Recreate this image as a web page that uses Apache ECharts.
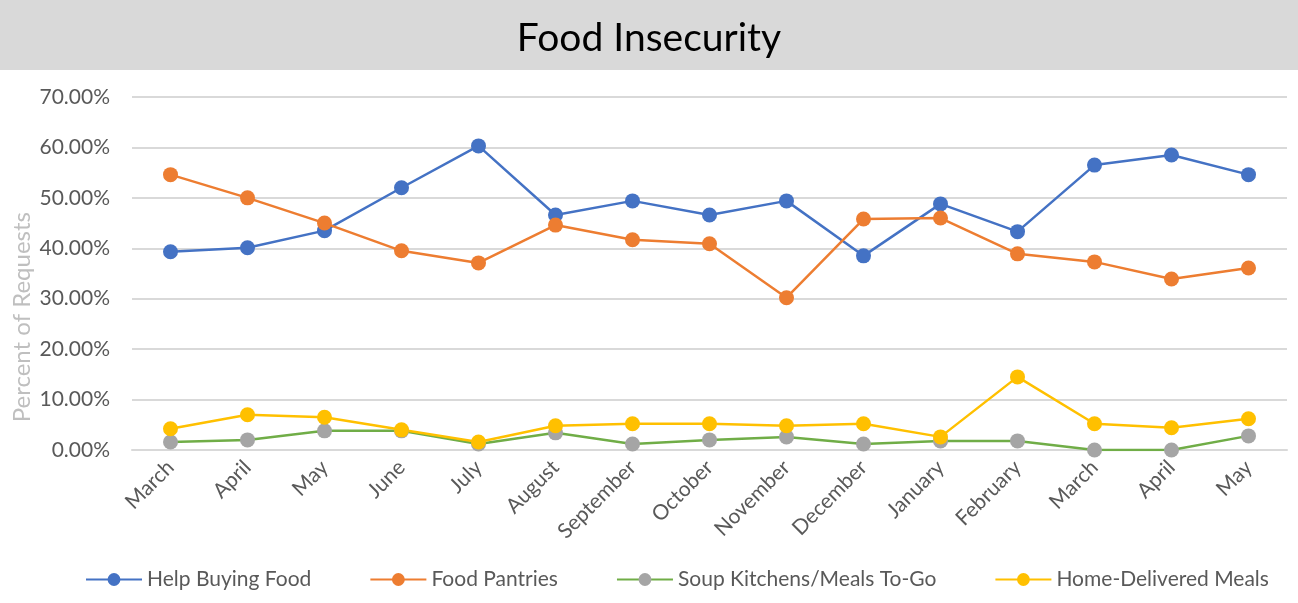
<!DOCTYPE html>
<html>
<head>
<meta charset="utf-8">
<script src="https://cdn.jsdelivr.net/npm/echarts@6/dist/echarts.min.js"></script>
<style>
  html, body { margin: 0; padding: 0; background: #fff; }
  #chart { width: 1298px; height: 603px; }
</style>
</head>
<body>
<div id="chart"></div>
<script>
// months (Mar of one year through May of the next)
var months = ['March', 'April', 'May', 'June', 'July', 'August', 'September', 'October',
  'November', 'December', 'January', 'February', 'March', 'April', 'May'];

// percent of requests
var helpBuyingFood = [39.3, 40.1, 43.5, 52.0, 60.3, 46.6, 49.4, 46.6, 49.4, 38.5, 48.8, 43.3, 56.5, 58.5, 54.6];
var foodPantries = [54.6, 50.0, 45.0, 39.5, 37.1, 44.6, 41.7, 40.9, 30.2, 45.8, 46.0, 38.9, 37.3, 33.9, 36.1];
var soupKitchens = [1.6, 2.0, 3.8, 3.8, 1.2, 3.4, 1.2, 2.0, 2.6, 1.2, 1.8, 1.8, 0.0, 0.0, 2.8];
var homeDelivered = [4.2, 7.0, 6.5, 4.0, 1.6, 4.8, 5.2, 5.2, 4.8, 5.2, 2.6, 14.5, 5.2, 4.4, 6.2];

var yTicks = [0, 10, 20, 30, 40, 50, 60, 70];

var font = 'Lato, "Open Sans", sans-serif';
var textGrey = '#595959';

function lineSeries(name, data, lineColor, dotColor) {
  return {
    name: name,
    type: 'line',
    data: data,
    symbol: 'circle',
    symbolSize: 15,
    lineStyle: { color: lineColor, width: 2.5 },
    itemStyle: { color: dotColor },
    color: dotColor,
    animation: false
  };
}

var myChart = echarts.init(document.getElementById('chart'));

var option = {
  animation: false,
  textStyle: { fontFamily: font },
  graphic: [
    {
      type: 'rect',
      left: 0, top: 0,
      shape: { width: 1298, height: 70 },
      style: { fill: '#d9d9d9' },
      z: -1
    },
    {
      type: 'text',
      left: 10, top: 212,
      rotation: Math.PI / 2,
      style: {
        text: 'Percent of Requests',
        fill: '#bfbfbf',
        font: '24px ' + font
      }
    }
  ],
  title: {
    text: 'Food Insecurity',
    left: 'center',
    top: 14,
    textStyle: { fontFamily: font, fontSize: 39, fontWeight: 'normal', color: '#000' }
  },
  grid: { left: 132, right: 11, top: 97, bottom: 153 },
  legend: {
    bottom: 8,
    left: 80,
    itemWidth: 56,
    itemHeight: 16,
    itemGap: 58,
    textStyle: { fontFamily: font, fontSize: 21, color: textGrey },
    data: ['Help Buying Food', 'Food Pantries', 'Soup Kitchens/Meals To-Go', 'Home-Delivered Meals']
  },
  xAxis: {
    type: 'category',
    data: months,
    axisLine: { lineStyle: { color: '#d9d9d9', width: 2 } },
    axisTick: { show: false },
    axisLabel: { rotate: 45, fontSize: 21, color: textGrey, fontFamily: font, margin: 14 }
  },
  yAxis: {
    type: 'value',
    min: yTicks[0],
    max: yTicks[yTicks.length - 1],
    interval: 10,
    axisLine: { show: false },
    axisTick: { show: false },
    splitLine: { lineStyle: { color: '#d9d9d9', width: 2 } },
    axisLabel: {
      fontSize: 21, color: textGrey, fontFamily: font, margin: 22,
      formatter: function (v) { return v.toFixed(2) + '%'; }
    }
  },
  series: [
    lineSeries('Help Buying Food', helpBuyingFood, '#4472C4', '#4472C4'),
    lineSeries('Food Pantries', foodPantries, '#ED7D31', '#ED7D31'),
    lineSeries('Soup Kitchens/Meals To-Go', soupKitchens, '#70AD47', '#A5A5A5'),
    lineSeries('Home-Delivered Meals', homeDelivered, '#FFC000', '#FFC000')
  ]
};

myChart.setOption(option);
</script>
</body>
</html>
